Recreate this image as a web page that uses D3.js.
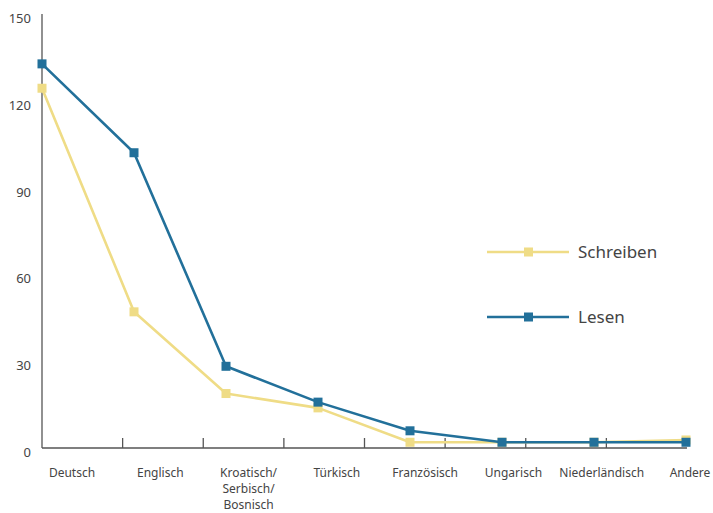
<!DOCTYPE html>
<html>
<head>
<meta charset="utf-8">
<script src="https://cdn.jsdelivr.net/npm/d3@7"></script>
<style>
	body { margin: 0; background: #fff; }
	text { font-family: "Noto Sans", sans-serif; fill: #444; }
</style>
</head>
<body>
<svg id="chart" width="713" height="513"></svg>
<script>
// languages on the x axis
var categories = ["Deutsch", "Englisch", "Kroatisch/\nSerbisch/\nBosnisch", "Türkisch", "Französisch", "Ungarisch", "Niederländisch", "Andere"]
// series values
var lesen     = [134, 103, 28.5, 16, 6, 2, 2, 2]
var schreiben = [125.5, 47.5, 19, 14, 2, 2, 2, 2.8]
var yTicks = [0, 30, 60, 90, 120, 150]
var seriesNames = ["Schreiben", "Lesen"]

var colors = {"Schreiben": "#EFDC86", "Lesen": "#22709A"}
var axisColor = "#555"

var svg = d3.select("#chart")
var margin = {top: 18, left: 42, right: 26, bottom: 65}
var width = 713, height = 513

// points sit on the category positions
var xScale = d3.scalePoint()
	.domain(categories)
	.range([margin.left, 686])

// axis ticks split the axis in equal bands
var bandScale = d3.scaleBand()
	.domain(categories)
	.range([margin.left, 687])

// labels are spread a bit differently from the points
var labelScale = d3.scalePoint()
	.domain(categories)
	.range([72, 690])

var yScale = d3.scaleLinear()
	.domain([0, 150])
	.range([448, margin.top])

// y axis line
svg.append("line")
	.attr("x1", margin.left).attr("x2", margin.left)
	.attr("y1", yScale(150) - 4).attr("y2", yScale(0))
	.attr("stroke", axisColor).attr("stroke-width", 1.3)

// x axis line
svg.append("line")
	.attr("x1", margin.left).attr("x2", bandScale.range()[1])
	.attr("y1", yScale(0)).attr("y2", yScale(0))
	.attr("stroke", axisColor).attr("stroke-width", 1.3)

// x ticks between categories
svg.append("g")
	.selectAll("line")
	.data(categories.slice(1))
	.enter()
	.append("line")
	.attr("x1", function(d){ return bandScale(d) })
	.attr("x2", function(d){ return bandScale(d) })
	.attr("y1", yScale(0))
	.attr("y2", yScale(0) - 10)
	.attr("stroke", axisColor)
	.attr("stroke-width", 1.3)

// y tick labels
svg.append("g")
	.selectAll("text")
	.data(yTicks)
	.enter()
	.append("text")
	.attr("x", 31)
	.attr("y", function(d){ return yScale(d) + 5 + (150 - d) / 150 * 4 })
	.attr("text-anchor", "end")
	.style("font-size", "13px")
	.text(function(d){ return d })

// x labels, possibly multi-line
var xLabels = svg.append("g")
	.selectAll("text")
	.data(categories)
	.enter()
	.append("text")
	.attr("x", function(d){ return labelScale(d) })
	.attr("y", 477)
	.attr("text-anchor", "middle")
	.style("font-size", "12px")
xLabels.each(function(d){
	var t = d3.select(this)
	d.split("\n").forEach(function(part, i){
		t.append("tspan")
			.attr("x", labelScale(d))
			.attr("dy", i === 0 ? 0 : 16)
			.text(part)
	})
})

var line = d3.line()
	.x(function(d, i){ return xScale(categories[i]) })
	.y(function(d){ return yScale(d) })

function drawSeries(name, values){
	svg.append("path")
		.datum(values)
		.attr("d", line)
		.attr("fill", "none")
		.attr("stroke", colors[name])
		.attr("stroke-width", 2.6)
		.attr("stroke-linejoin", "round")

	svg.append("g")
		.selectAll("rect")
		.data(values)
		.enter()
		.append("rect")
		.attr("x", function(d, i){ return xScale(categories[i]) - 4.5 })
		.attr("y", function(d){ return yScale(d) - 4.5 })
		.attr("width", 9)
		.attr("height", 9)
		.attr("fill", colors[name])
}

drawSeries("Schreiben", schreiben)
drawSeries("Lesen", lesen)

// legend
var legend = svg.append("g")
	.selectAll("g")
	.data(seriesNames)
	.enter()
	.append("g")
	.attr("transform", function(d, i){ return "translate(487," + (252 + i * 65) + ")" })

legend.append("line")
	.attr("x1", 0).attr("x2", 82)
	.attr("stroke", function(d){ return colors[d] })
	.attr("stroke-width", 2.6)
legend.append("rect")
	.attr("x", 37).attr("y", -4.5)
	.attr("width", 9).attr("height", 9)
	.attr("fill", function(d){ return colors[d] })
legend.append("text")
	.attr("x", 91)
	.attr("y", 6)
	.style("font-size", "17px")
	.text(function(d){ return d })
</script>
</body>
</html>
